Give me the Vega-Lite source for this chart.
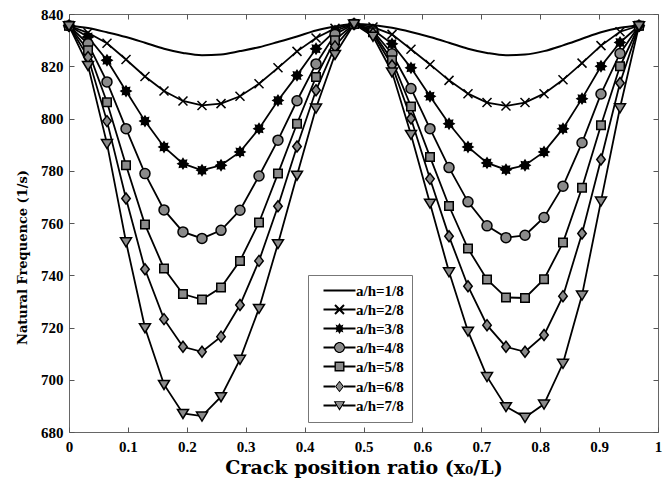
{
"$schema": "https://vega.github.io/schema/vega-lite/v6.json",
"width": 589, "height": 418,
"autosize": "none",
"padding": {"left": 69, "top": 14, "right": 11, "bottom": 52},
"background": "white",
"config": {"view": {"stroke": "#666", "strokeWidth": 1}, "axis": {"grid": false}},
"datasets": {"d": [
{"s":"a/h=1/8","x":0,"y":835.5},{"s":"a/h=1/8","x":0.0323,"y":834.6},{"s":"a/h=1/8","x":0.0645,"y":833.0},{"s":"a/h=1/8","x":0.0968,"y":831.2},{"s":"a/h=1/8","x":0.129,"y":829.0},{"s":"a/h=1/8","x":0.1613,"y":826.7},{"s":"a/h=1/8","x":0.1935,"y":825.1},{"s":"a/h=1/8","x":0.2258,"y":824.2},{"s":"a/h=1/8","x":0.2581,"y":824.5},{"s":"a/h=1/8","x":0.2903,"y":825.8},{"s":"a/h=1/8","x":0.3226,"y":827.3},{"s":"a/h=1/8","x":0.3548,"y":829.3},{"s":"a/h=1/8","x":0.3871,"y":831.4},{"s":"a/h=1/8","x":0.4194,"y":833.7},{"s":"a/h=1/8","x":0.4516,"y":835.2},{"s":"a/h=1/8","x":0.4839,"y":836.2},{"s":"a/h=1/8","x":0.5161,"y":835.8},{"s":"a/h=1/8","x":0.5484,"y":834.7},{"s":"a/h=1/8","x":0.5806,"y":833.1},{"s":"a/h=1/8","x":0.6129,"y":831.2},{"s":"a/h=1/8","x":0.6452,"y":829.0},{"s":"a/h=1/8","x":0.6774,"y":826.7},{"s":"a/h=1/8","x":0.7097,"y":825.1},{"s":"a/h=1/8","x":0.7419,"y":824.2},{"s":"a/h=1/8","x":0.7742,"y":824.5},{"s":"a/h=1/8","x":0.8065,"y":825.8},{"s":"a/h=1/8","x":0.8387,"y":828.0},{"s":"a/h=1/8","x":0.871,"y":830.5},{"s":"a/h=1/8","x":0.9032,"y":833.0},{"s":"a/h=1/8","x":0.9355,"y":834.7},{"s":"a/h=1/8","x":0.9677,"y":835.6},
{"s":"a/h=2/8","x":0,"y":835.5},{"s":"a/h=2/8","x":0.0323,"y":832.8},{"s":"a/h=2/8","x":0.0645,"y":828.8},{"s":"a/h=2/8","x":0.0968,"y":822.6},{"s":"a/h=2/8","x":0.129,"y":816.1},{"s":"a/h=2/8","x":0.1613,"y":810.5},{"s":"a/h=2/8","x":0.1935,"y":806.7},{"s":"a/h=2/8","x":0.2258,"y":805.0},{"s":"a/h=2/8","x":0.2581,"y":805.7},{"s":"a/h=2/8","x":0.2903,"y":808.5},{"s":"a/h=2/8","x":0.3226,"y":813.3},{"s":"a/h=2/8","x":0.3548,"y":819.4},{"s":"a/h=2/8","x":0.3871,"y":825.7},{"s":"a/h=2/8","x":0.4194,"y":830.8},{"s":"a/h=2/8","x":0.4516,"y":834.5},{"s":"a/h=2/8","x":0.4839,"y":836.2},{"s":"a/h=2/8","x":0.5161,"y":835.0},{"s":"a/h=2/8","x":0.5484,"y":832.2},{"s":"a/h=2/8","x":0.5806,"y":826.5},{"s":"a/h=2/8","x":0.6129,"y":820.7},{"s":"a/h=2/8","x":0.6452,"y":814.6},{"s":"a/h=2/8","x":0.6774,"y":809.5},{"s":"a/h=2/8","x":0.7097,"y":806.1},{"s":"a/h=2/8","x":0.7419,"y":804.8},{"s":"a/h=2/8","x":0.7742,"y":806.1},{"s":"a/h=2/8","x":0.8065,"y":809.5},{"s":"a/h=2/8","x":0.8387,"y":814.8},{"s":"a/h=2/8","x":0.871,"y":821.2},{"s":"a/h=2/8","x":0.9032,"y":827.9},{"s":"a/h=2/8","x":0.9355,"y":833.2},{"s":"a/h=2/8","x":0.9677,"y":835.5},
{"s":"a/h=3/8","x":0,"y":835.5},{"s":"a/h=3/8","x":0.0323,"y":831.2},{"s":"a/h=3/8","x":0.0645,"y":822.3},{"s":"a/h=3/8","x":0.0968,"y":810.5},{"s":"a/h=3/8","x":0.129,"y":799.0},{"s":"a/h=3/8","x":0.1613,"y":789.1},{"s":"a/h=3/8","x":0.1935,"y":782.7},{"s":"a/h=3/8","x":0.2258,"y":780.2},{"s":"a/h=3/8","x":0.2581,"y":782.1},{"s":"a/h=3/8","x":0.2903,"y":787.2},{"s":"a/h=3/8","x":0.3226,"y":796.1},{"s":"a/h=3/8","x":0.3548,"y":806.9},{"s":"a/h=3/8","x":0.3871,"y":816.5},{"s":"a/h=3/8","x":0.4194,"y":826.7},{"s":"a/h=3/8","x":0.4516,"y":833.5},{"s":"a/h=3/8","x":0.4839,"y":836.2},{"s":"a/h=3/8","x":0.5161,"y":834.0},{"s":"a/h=3/8","x":0.5484,"y":828.6},{"s":"a/h=3/8","x":0.5806,"y":819.4},{"s":"a/h=3/8","x":0.6129,"y":808.5},{"s":"a/h=3/8","x":0.6452,"y":798.0},{"s":"a/h=3/8","x":0.6774,"y":789.1},{"s":"a/h=3/8","x":0.7097,"y":783.0},{"s":"a/h=3/8","x":0.7419,"y":780.4},{"s":"a/h=3/8","x":0.7742,"y":782.1},{"s":"a/h=3/8","x":0.8065,"y":787.2},{"s":"a/h=3/8","x":0.8387,"y":796.1},{"s":"a/h=3/8","x":0.871,"y":807.6},{"s":"a/h=3/8","x":0.9032,"y":820.0},{"s":"a/h=3/8","x":0.9355,"y":829.1},{"s":"a/h=3/8","x":0.9677,"y":835.5},
{"s":"a/h=4/8","x":0,"y":835.5},{"s":"a/h=4/8","x":0.0323,"y":828.6},{"s":"a/h=4/8","x":0.0645,"y":814.0},{"s":"a/h=4/8","x":0.0968,"y":796.1},{"s":"a/h=4/8","x":0.129,"y":778.9},{"s":"a/h=4/8","x":0.1613,"y":765.0},{"s":"a/h=4/8","x":0.1935,"y":756.6},{"s":"a/h=4/8","x":0.2258,"y":754.1},{"s":"a/h=4/8","x":0.2581,"y":757.2},{"s":"a/h=4/8","x":0.2903,"y":764.9},{"s":"a/h=4/8","x":0.3226,"y":778.0},{"s":"a/h=4/8","x":0.3548,"y":791.7},{"s":"a/h=4/8","x":0.3871,"y":806.8},{"s":"a/h=4/8","x":0.4194,"y":820.9},{"s":"a/h=4/8","x":0.4516,"y":832.2},{"s":"a/h=4/8","x":0.4839,"y":836.2},{"s":"a/h=4/8","x":0.5161,"y":833.5},{"s":"a/h=4/8","x":0.5484,"y":824.8},{"s":"a/h=4/8","x":0.5806,"y":811.5},{"s":"a/h=4/8","x":0.6129,"y":796.1},{"s":"a/h=4/8","x":0.6452,"y":781.2},{"s":"a/h=4/8","x":0.6774,"y":768.1},{"s":"a/h=4/8","x":0.7097,"y":758.9},{"s":"a/h=4/8","x":0.7419,"y":754.4},{"s":"a/h=4/8","x":0.7742,"y":755.3},{"s":"a/h=4/8","x":0.8065,"y":762.1},{"s":"a/h=4/8","x":0.8387,"y":774.1},{"s":"a/h=4/8","x":0.871,"y":790.7},{"s":"a/h=4/8","x":0.9032,"y":809.4},{"s":"a/h=4/8","x":0.9355,"y":824.9},{"s":"a/h=4/8","x":0.9677,"y":835.5},
{"s":"a/h=5/8","x":0,"y":835.5},{"s":"a/h=5/8","x":0.0323,"y":826.1},{"s":"a/h=5/8","x":0.0645,"y":806.2},{"s":"a/h=5/8","x":0.0968,"y":782.1},{"s":"a/h=5/8","x":0.129,"y":759.4},{"s":"a/h=5/8","x":0.1613,"y":742.6},{"s":"a/h=5/8","x":0.1935,"y":732.8},{"s":"a/h=5/8","x":0.2258,"y":730.7},{"s":"a/h=5/8","x":0.2581,"y":735.3},{"s":"a/h=5/8","x":0.2903,"y":745.5},{"s":"a/h=5/8","x":0.3226,"y":760.2},{"s":"a/h=5/8","x":0.3548,"y":778.9},{"s":"a/h=5/8","x":0.3871,"y":798.0},{"s":"a/h=5/8","x":0.4194,"y":815.9},{"s":"a/h=5/8","x":0.4516,"y":830.0},{"s":"a/h=5/8","x":0.4839,"y":836.2},{"s":"a/h=5/8","x":0.5161,"y":833.0},{"s":"a/h=5/8","x":0.5484,"y":822.3},{"s":"a/h=5/8","x":0.5806,"y":804.6},{"s":"a/h=5/8","x":0.6129,"y":785.3},{"s":"a/h=5/8","x":0.6452,"y":766.5},{"s":"a/h=5/8","x":0.6774,"y":750.2},{"s":"a/h=5/8","x":0.7097,"y":738.4},{"s":"a/h=5/8","x":0.7419,"y":731.5},{"s":"a/h=5/8","x":0.7742,"y":731.3},{"s":"a/h=5/8","x":0.8065,"y":738.5},{"s":"a/h=5/8","x":0.8387,"y":752.5},{"s":"a/h=5/8","x":0.871,"y":773.5},{"s":"a/h=5/8","x":0.9032,"y":797.4},{"s":"a/h=5/8","x":0.9355,"y":820.0},{"s":"a/h=5/8","x":0.9677,"y":835.5},
{"s":"a/h=6/8","x":0,"y":835.5},{"s":"a/h=6/8","x":0.0323,"y":823.5},{"s":"a/h=6/8","x":0.0645,"y":799.0},{"s":"a/h=6/8","x":0.0968,"y":769.4},{"s":"a/h=6/8","x":0.129,"y":742.3},{"s":"a/h=6/8","x":0.1613,"y":723.2},{"s":"a/h=6/8","x":0.1935,"y":712.6},{"s":"a/h=6/8","x":0.2258,"y":710.7},{"s":"a/h=6/8","x":0.2581,"y":716.5},{"s":"a/h=6/8","x":0.2903,"y":728.6},{"s":"a/h=6/8","x":0.3226,"y":745.5},{"s":"a/h=6/8","x":0.3548,"y":766.4},{"s":"a/h=6/8","x":0.3871,"y":789.3},{"s":"a/h=6/8","x":0.4194,"y":810.8},{"s":"a/h=6/8","x":0.4516,"y":827.6},{"s":"a/h=6/8","x":0.4839,"y":836.2},{"s":"a/h=6/8","x":0.5161,"y":832.5},{"s":"a/h=6/8","x":0.5484,"y":820.3},{"s":"a/h=6/8","x":0.5806,"y":800.0},{"s":"a/h=6/8","x":0.6129,"y":776.9},{"s":"a/h=6/8","x":0.6452,"y":754.9},{"s":"a/h=6/8","x":0.6774,"y":735.8},{"s":"a/h=6/8","x":0.7097,"y":720.9},{"s":"a/h=6/8","x":0.7419,"y":712.6},{"s":"a/h=6/8","x":0.7742,"y":710.7},{"s":"a/h=6/8","x":0.8065,"y":717.1},{"s":"a/h=6/8","x":0.8387,"y":732.0},{"s":"a/h=6/8","x":0.871,"y":756.0},{"s":"a/h=6/8","x":0.9032,"y":784.3},{"s":"a/h=6/8","x":0.9355,"y":813.6},{"s":"a/h=6/8","x":0.9677,"y":835.5},
{"s":"a/h=7/8","x":0,"y":835.5},{"s":"a/h=7/8","x":0.0323,"y":820.3},{"s":"a/h=7/8","x":0.0645,"y":790.4},{"s":"a/h=7/8","x":0.0968,"y":752.8},{"s":"a/h=7/8","x":0.129,"y":719.9},{"s":"a/h=7/8","x":0.1613,"y":698.2},{"s":"a/h=7/8","x":0.1935,"y":687.1},{"s":"a/h=7/8","x":0.2258,"y":686.1},{"s":"a/h=7/8","x":0.2581,"y":693.5},{"s":"a/h=7/8","x":0.2903,"y":707.8},{"s":"a/h=7/8","x":0.3226,"y":727.3},{"s":"a/h=7/8","x":0.3548,"y":752.1},{"s":"a/h=7/8","x":0.3871,"y":778.3},{"s":"a/h=7/8","x":0.4194,"y":804.0},{"s":"a/h=7/8","x":0.4516,"y":824.5},{"s":"a/h=7/8","x":0.4839,"y":836.2},{"s":"a/h=7/8","x":0.5161,"y":831.5},{"s":"a/h=7/8","x":0.5484,"y":817.8},{"s":"a/h=7/8","x":0.5806,"y":793.9},{"s":"a/h=7/8","x":0.6129,"y":767.6},{"s":"a/h=7/8","x":0.6452,"y":741.3},{"s":"a/h=7/8","x":0.6774,"y":718.6},{"s":"a/h=7/8","x":0.7097,"y":701.2},{"s":"a/h=7/8","x":0.7419,"y":689.7},{"s":"a/h=7/8","x":0.7742,"y":685.6},{"s":"a/h=7/8","x":0.8065,"y":690.7},{"s":"a/h=7/8","x":0.8387,"y":706.3},{"s":"a/h=7/8","x":0.871,"y":732.4},{"s":"a/h=7/8","x":0.9032,"y":768.4},{"s":"a/h=7/8","x":0.9355,"y":804.1},{"s":"a/h=7/8","x":0.9677,"y":835.5}
]},
"data": {"name": "d"},
"layer": [
{
"transform": [{"filter": "datum.s !== 'a/h=1/8'"}],
"mark": {"type": "line", "color": "black", "strokeWidth": 1.8},
"encoding": {
"x": {"field": "x", "type": "quantitative", "scale": {"domain": [0, 1], "nice": false, "zero": false},
"axis": {"orient": "bottom", "values": [0,0.1,0.2,0.3,0.4,0.5,0.6,0.7,0.8,0.9,1], "format": "~g", "title": "Crack position ratio (x₀/L)", "domain": false, "tickSize": -5, "tickColor": "#555", "labelPadding": 12, "labelFlush": false, "labelOverlap": false, "labelFont": "Liberation Serif", "labelFontSize": 15, "labelFontWeight": "bold", "labelColor": "black", "titleFont": "DejaVu Serif", "titleFontSize": 19, "titleFontWeight": "bold", "titleColor": "black", "titleY": 35, "titleBaseline": "middle"}},
"y": {"field": "y", "type": "quantitative", "scale": {"domain": [680, 840], "nice": false, "zero": false},
"axis": {"orient": "left", "values": [680,700,720,740,760,780,800,820,840], "title": "Natural Frequence (1/s)", "domain": false, "tickSize": -5, "tickColor": "#555", "labelPadding": 11, "labelOverlap": false, "labelFlush": false, "labelFont": "Liberation Serif", "labelFontSize": 15, "labelFontWeight": "bold", "labelColor": "black", "titleFont": "DejaVu Serif", "titleFontSize": 13, "titleFontWeight": "bold", "titleColor": "black", "titleX": -47, "titleY": 243, "titleBaseline": "middle", "titleAlign": "center", "titleAngle": -90}},
"detail": {"field": "s"}
}
},
{
"transform": [{"filter": "datum.s === 'a/h=1/8'"}],
"mark": {"type": "line", "color": "black", "strokeWidth": 2, "interpolate": "monotone"},
"encoding": {
"x": {"field": "x", "type": "quantitative", "axis": {"orient": "top", "values": [0,0.1,0.2,0.3,0.4,0.5,0.6,0.7,0.8,0.9,1], "labels": false, "title": null, "domain": false, "tickSize": -5, "tickColor": "#555"}},
"y": {"field": "y", "type": "quantitative", "axis": {"orient": "right", "values": [680,700,720,740,760,780,800,820,840], "labels": false, "title": null, "domain": false, "tickSize": -5, "tickColor": "#555"}}
}
},
{
"transform": [{"filter": "datum.s !== 'a/h=1/8'"}],
"mark": {"type": "point", "filled": true, "stroke": "black", "strokeWidth": 1.5, "size": 100, "opacity": 1},
"encoding": {
"x": {"field": "x", "type": "quantitative", "axis": null},
"y": {"field": "y", "type": "quantitative", "axis": null},
"shape": {"field": "s", "type": "nominal", "legend": null, "scale": {"domain": ["a/h=2/8","a/h=3/8","a/h=4/8","a/h=5/8","a/h=6/8","a/h=7/8"], "range": ["M-0.9,-0.9L0.9,0.9M-0.9,0.9L0.9,-0.9", "M0,-1L0.25,-0.6L0.7,-0.7L0.6,-0.25L1,0L0.6,0.25L0.7,0.7L0.25,0.6L0,1L-0.25,0.6L-0.7,0.7L-0.6,0.25L-1,0L-0.6,-0.25L-0.7,-0.7L-0.25,-0.6Z", "circle", "M-0.85,-0.85H0.85V0.85H-0.85Z", "M0,-1.1L0.85,0L0,1.1L-0.85,0Z", "M-1.1,-0.8L1.1,-0.8L0,1Z"]}},
"fill": {"condition": {"test": "datum.s === 'a/h=3/8'", "value": "black"}, "value": "#8a8a8a"}
}
},
{
"transform": [{"filter": "false"}],
"mark": {"type": "point", "filled": true, "fill": "black", "size": 100, "opacity": 1},
"encoding": {
"x": {"field": "x", "type": "quantitative", "axis": null},
"y": {"field": "y", "type": "quantitative", "axis": null},
"shape": {"field": "s", "type": "nominal",
"scale": {"domain": ["a/h=1/8","a/h=2/8","a/h=3/8","a/h=4/8","a/h=5/8","a/h=6/8","a/h=7/8"], "range": [
"M-3.2,-0.2V0.2H3.2V-0.2Z",
"M-3.2,-0.2V0.2H3.2V-0.2ZM-1.041,-0.759L0.759,1.041L1.041,0.759L-0.759,-1.041ZM-0.759,1.041L1.041,-0.759L0.759,-1.041L-1.041,0.759Z",
"M-3.2,-0.2V0.2H3.2V-0.2ZM0,-1.1L-0.3,-0.6L-0.78,-0.78L-0.6,-0.3L-1.1,0L-0.6,0.3L-0.78,0.78L-0.3,0.6L0,1.1L0.3,0.6L0.78,0.78L0.6,0.3L1.1,0L0.6,-0.3L0.78,-0.78L0.3,-0.6Z",
"M-3.2,-0.2V0.2H-1V-0.2ZM1,-0.2V0.2H3.2V-0.2ZM1.1,0A1.1,1.1 0 1,0 -1.1,0A1.1,1.1 0 1,0 1.1,0ZM0.8,0A0.8,0.8 0 1,1 -0.8,0A0.8,0.8 0 1,1 0.8,0Z",
"M-3.2,-0.2V0.2H-1V-0.2ZM1,-0.2V0.2H3.2V-0.2ZM-1,-1V1H1V-1ZM-0.7,-0.7H0.7V0.7H-0.7Z",
"M-3.2,-0.2V0.2H-0.9V-0.2ZM0.9,-0.2V0.2H3.2V-0.2ZM0,-1.15L-0.9,0L0,1.15L0.9,0ZM0,-0.8L0.6,0L0,0.8L-0.6,0Z",
"M-3.2,-0.2V0.2H-0.64V-0.2ZM0.64,-0.2V0.2H3.2V-0.2ZM-1.15,-0.85L0,1.05L1.15,-0.85ZM-0.7,-0.6L0.7,-0.6L0,0.55Z"]},
"legend": {"title": null, "orient": "none", "legendX": 239, "legendY": 261, "padding": 8, "strokeColor": "#777", "fillColor": "white", "symbolSize": 100, "symbolStrokeWidth": 1.5, "symbolOpacity": 1, "symbolOffset": 16, "labelOffset": 9, "labelFont": "Liberation Serif", "labelFontSize": 15, "labelFontWeight": "bold", "labelColor": "black", "rowPadding": 2, "labelLimit": 200}}
}
},
{
"transform": [{"filter": "false"}],
"mark": {"type": "point", "filled": true, "fill": "#8a8a8a", "size": 100, "opacity": 1},
"encoding": {
"x": {"field": "x", "type": "quantitative", "axis": null},
"y": {"field": "y", "type": "quantitative", "axis": null},
"shape": {"field": "s", "type": "nominal",
"scale": {"domain": ["a/h=1/8","a/h=2/8","a/h=3/8","a/h=4/8","a/h=5/8","a/h=6/8","a/h=7/8"], "range": [
"M-3.2,-0.2L3.2,0.2",
"M-3.2,-1.041L3.2,1.041",
"M-3.2,-1.1L3.2,1.1",
"M-3.2,-1.1L3.2,1.1M0.82,0A0.82,0.82 0 1,1 -0.82,0A0.82,0.82 0 1,1 0.82,0Z",
"M-3.2,-1L3.2,1M-0.72,-0.72H0.72V0.72H-0.72Z",
"M-3.2,-1.15L3.2,1.15M0,-0.82L0.62,0L0,0.82L-0.62,0Z",
"M-3.2,-0.85L3.2,1.05M-0.72,-0.61L0.72,-0.61L0,0.57Z"]},
"legend": {"title": null, "orient": "none", "legendX": 239, "legendY": 261, "padding": 8, "strokeColor": "transparent", "fillColor": "transparent", "symbolSize": 100, "symbolStrokeWidth": 1.5, "symbolOpacity": 1, "symbolOffset": 16, "labelOffset": 9, "labelFont": "Liberation Serif", "labelFontSize": 15, "labelFontWeight": "bold", "labelColor": "black", "labelOpacity": 0, "rowPadding": 2, "labelLimit": 200}}
}
}
],
"resolve": {"scale": {"shape": "independent"}, "axis": {"x": "independent", "y": "independent"}}
}
